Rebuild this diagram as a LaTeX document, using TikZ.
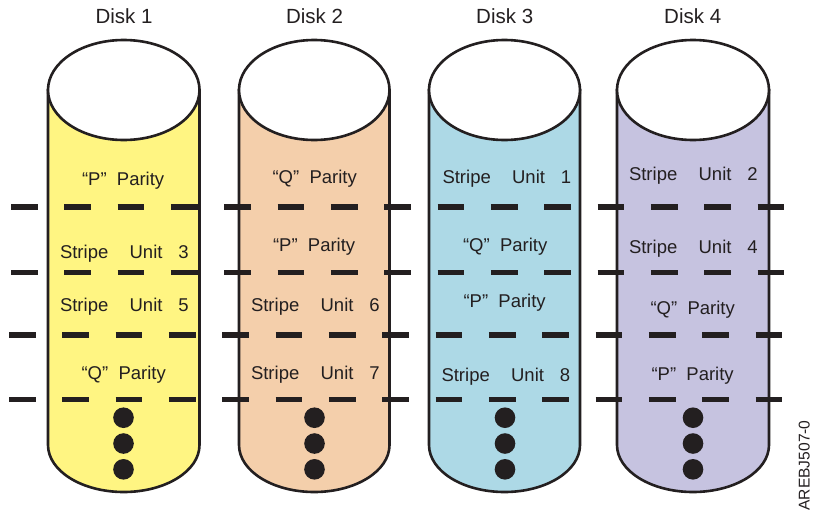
\documentclass[tikz,border=0pt]{standalone}
\usepackage{fontspec}
\setmainfont{Liberation Sans}
\definecolor{ink}{HTML}{231F20}
\definecolor{cyellow}{HTML}{FFF582}
\definecolor{cpeach}{HTML}{F4CFAB}
\definecolor{cblue}{HTML}{ADD9E6}
\definecolor{cpurple}{HTML}{C6C3E0}
\newcommand{\cyl}[3]{% left x, right x, colour
  \draw[outline,fill=#3] (#1,90) -- (#1,445)
    arc[start angle=180,end angle=360,x radius={(#2-#1)/2},y radius=-47]
    -- (#2,90) -- cycle;
  \draw[outline,fill=white] ({(#1+#2)/2},90) ellipse[x radius={(#2-#1)/2},y radius=50];
}
\newcommand{\tripledot}[1]{%
  \foreach \yy in {417.7,443.5,469.3} \fill[ink] (#1,\yy) circle[radius=10.3];
}
\newcommand{\su}[1]{Stripe\hspace{21.3pt}Unit\hspace{15.8pt}#1}
\newcommand{\qpar}{“Q”\hspace{10.3pt}Parity}
\newcommand{\ppar}{“P”\hspace{10.3pt}Parity}
\tikzset{
  outline/.style={draw=ink,line width=2.6pt},
  stripeline/.style={draw=ink,line width=5.5pt,dash pattern=on 26.7pt off 26.63pt},
  lbl/.style={anchor=base west,inner sep=0pt,outer sep=0pt,text=ink,font=\fontsize{18.5}{22}\selectfont},
  title/.style={anchor=base,inner sep=0pt,outer sep=0pt,text=ink,font=\fontsize{20.5}{24}\selectfont},
}
\begin{document}
\begin{tikzpicture}[x=1pt,y=-1pt]
\useasboundingbox (0,0) rectangle (813,514);
\cyl{48}{199.5}{cyellow}
\cyl{239}{389.5}{cpeach}
\cyl{429}{580}{cblue}
\cyl{617}{769}{cpurple}
\coordinate (r1a) at (11,207);   \coordinate (r1b) at (785,207);
\coordinate (r2a) at (11,272.7); \coordinate (r2b) at (785,272.7);
\coordinate (r3a) at (9,335);    \coordinate (r3b) at (783,335);
\coordinate (r4a) at (9,399.5);  \coordinate (r4b) at (783,399.5);
\draw[stripeline] (r1a) -- (r1b);
\draw[stripeline] (r2a) -- (r2b);
\draw[stripeline] (r3a) -- (r3b);
\draw[stripeline] (r4a) -- (r4b);
\tripledot{123.5}
\tripledot{314.5}
\tripledot{505}
\tripledot{693}
\node[title] (t1) at (124,23.5) {Disk 1};
\node[title] (t2) at (314.5,23.5) {Disk 2};
\node[title] (t3) at (504.7,23.5) {Disk 3};
\node[title] (t4) at (692.7,23.5) {Disk 4};
\node[lbl] (a1) at (82,185.7) {\ppar};
\node[lbl] (a2) at (60,258) {\su{3}};
\node[lbl] (a3) at (60,311.7) {\su{5}};
\node[lbl] (a4) at (81.5,379) {\qpar};
\node[lbl] (b1) at (272.5,183) {\qpar};
\node[lbl] (b2) at (273,251) {\ppar};
\node[lbl] (b3) at (251,311.7) {\su{6}};
\node[lbl] (b4) at (251,379) {\su{7}};
\node[lbl] (c1) at (442.5,183) {\su{1}};
\node[lbl] (c2) at (463,251) {\qpar};
\node[lbl] (c3) at (463.5,307.7) {\ppar};
\node[lbl] (c4) at (441.5,381.7) {\su{8}};
\node[lbl] (d1) at (629,180.5) {\su{2}};
\node[lbl] (d2) at (629,253.5) {\su{4}};
\node[lbl] (d3) at (650.5,314) {\qpar};
\node[lbl] (d4) at (651.5,380) {\ppar};
\node[anchor=base west,rotate=90,inner sep=0pt,outer sep=0pt,text=ink,font=\fontsize{15.6}{18}\selectfont] (code) at (809.5,510.5) {AREBJ507-0};
\end{tikzpicture}
\end{document}
